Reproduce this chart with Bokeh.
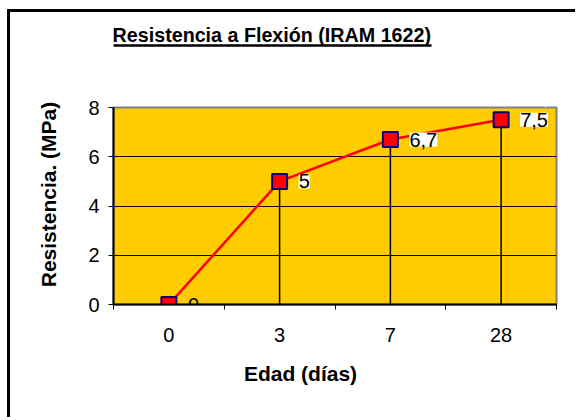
from bokeh.plotting import figure
from bokeh.models import Range1d, FixedTicker, ColumnDataSource, LabelSet, LinearAxis
from bokeh.core.properties import value
from bokeh.embed import file_html
from bokeh.resources import INLINE

# ---- data ----
categories = ["0", "3", "7", "28"]
resistencia = [0, 5, 6.7, 7.5]
y_ticks = [0, 2, 4, 6, 8]
title_text = "Resistencia a Flexión (IRAM 1622)"
x_title = "Edad (días)"
y_title = "Resistencia. (MPa)"

FONT = "Liberation Sans"
OX, OY = 10, 12            # canvas origin on the page (after css margin + border)
W, H = 578 - OX, 420 - OY
FL, FR, FT, FB = 113, 556, 107, 304   # frame edges on the page

xs = [i + 0.5 for i in range(len(categories))]
labels = [f"{v:g}".replace(".", ",") for v in resistencia]
ncat = len(categories)
px_per_x = (FR - FL) / ncat
px_per_y = (FB - FT) / 8

p = figure(width=W, height=H, output_backend="svg", toolbar_location=None, title=None,
           x_range=Range1d(0, ncat), y_range=Range1d(0, 8),
           min_border_left=FL - OX, min_border_right=578 - FR,
           min_border_top=FT - OY, min_border_bottom=420 - FB)
p.styles = {"margin-left": "7px", "margin-top": "9px",
            "border-left": "3px solid black", "border-top": "3px solid black"}
p.background_fill_color = "#FFCC00"
p.border_fill_color = "white"
p.outline_line_color = "#808080"
p.outline_line_width = 2

# x axis (ticks at category boundaries, labels at centres)
xa = p.xaxis[0]
xa.ticker = FixedTicker(ticks=xs, minor_ticks=list(range(ncat + 1)))
xa.major_label_overrides = {x: c for x, c in zip(xs, categories)}
xa.major_tick_line_color = None
xa.major_tick_out = 5
xa.minor_tick_line_color = "black"
xa.minor_tick_out = 5
xa.minor_tick_in = 0
xa.axis_line_color = "black"
xa.axis_line_width = 2
xa.major_label_text_font = FONT
xa.major_label_text_font_size = "20px"
xa.major_label_text_color = "black"
xa.major_label_standoff = 18

# y axis
ya = p.yaxis[0]
ya.ticker = FixedTicker(ticks=y_ticks, minor_ticks=[])
ya.major_tick_out = 5
ya.major_tick_in = 0
ya.major_tick_line_color = "black"
ya.axis_line_color = "black"
ya.axis_line_width = 2
ya.major_label_text_font = FONT
ya.major_label_text_font_size = "20px"
ya.major_label_text_color = "black"
ya.major_label_standoff = 9

p.xgrid.visible = False
p.ygrid.ticker = FixedTicker(ticks=[t for t in y_ticks if 0 < t < 8])
p.ygrid.grid_line_color = "black"
p.ygrid.grid_line_width = 1


def text_axis(tick, text, size, standoff, **kw):
    """Axis whose single tick label carries a title text."""
    return LinearAxis(ticker=FixedTicker(ticks=[tick], minor_ticks=[]),
                      major_label_overrides={tick: text},
                      major_tick_in=0, major_tick_out=0,
                      major_tick_line_color=None, minor_tick_line_color=None,
                      major_label_standoff=standoff,
                      major_label_text_font=FONT, major_label_text_font_size=size,
                      major_label_text_font_style="bold", major_label_text_color="black",
                      **kw)


# spacer above the frame: one white (invisible) tick in an empty spot makes the room
UNDERLINE_Y = 44.5
sp_tick = ncat - 0.1
spacer = LinearAxis(ticker=FixedTicker(ticks=[sp_tick], minor_ticks=[]),
                    major_label_overrides={sp_tick: ""},
                    axis_line_color=None, major_tick_in=0,
                    major_tick_out=int(round(FT - UNDERLINE_Y)),
                    major_tick_line_color="white", minor_tick_line_color=None,
                    major_label_standoff=0)
p.add_layout(spacer, "above")

# underlined title: the axis line is the underline, the tick label is the title
title_size = 19.7
title_px = title_size * 16.172      # advance width of the title in Liberation Sans Bold
title_left = 112
t0 = (title_left - FL) / px_per_x
t1 = (title_left + title_px - FL) / px_per_x
tax = text_axis((t0 + t1) / 2, title_text, f"{title_size}px", 0,
                axis_line_color="black", axis_line_width=2.5, bounds=(max(t0, 0), t1))
p.add_layout(tax, "above")

# x axis title
xlab = text_axis((300 - FL) / px_per_x, x_title, "21px", 17, axis_line_color=None)
p.add_layout(xlab, "below")

# y axis title
ylab = text_axis((FB - 194) / px_per_y, y_title, "21px", 26, axis_line_color=None,
                 major_label_orientation="parallel")
p.add_layout(ylab, "left")

src = ColumnDataSource(dict(x=xs, y=resistencia, lab=labels, y0=[0] * len(xs)))

p.segment(x0="x", y0="y0", x1="x", y1="y", source=src, line_color="black", line_width=1.5)
p.line(x="x", y="y", source=src, line_color="#FF0000", line_width=2.5)
p.scatter(x="x", y="y", source=src, marker="square", size=15,
          fill_color="#FF0000", line_color="#000080", line_width=2)

pos = [i for i, v in enumerate(resistencia) if v > 0]
zero = [i for i, v in enumerate(resistencia) if v <= 0]
for idx, bg in ((pos, "white"), (zero, None)):
    s = ColumnDataSource(dict(x=[xs[i] for i in idx], y=[resistencia[i] for i in idx],
                              lab=[labels[i] for i in idx]))
    p.add_layout(LabelSet(x="x", y="y", text="lab", source=s, x_offset=19, y_offset=0,
                          text_align="left", text_baseline="middle", text_font=value(FONT),
                          text_font_size=value("20px"), text_color="black",
                          background_fill_color=bg))

open("out.html", "w").write(file_html(p, INLINE))
